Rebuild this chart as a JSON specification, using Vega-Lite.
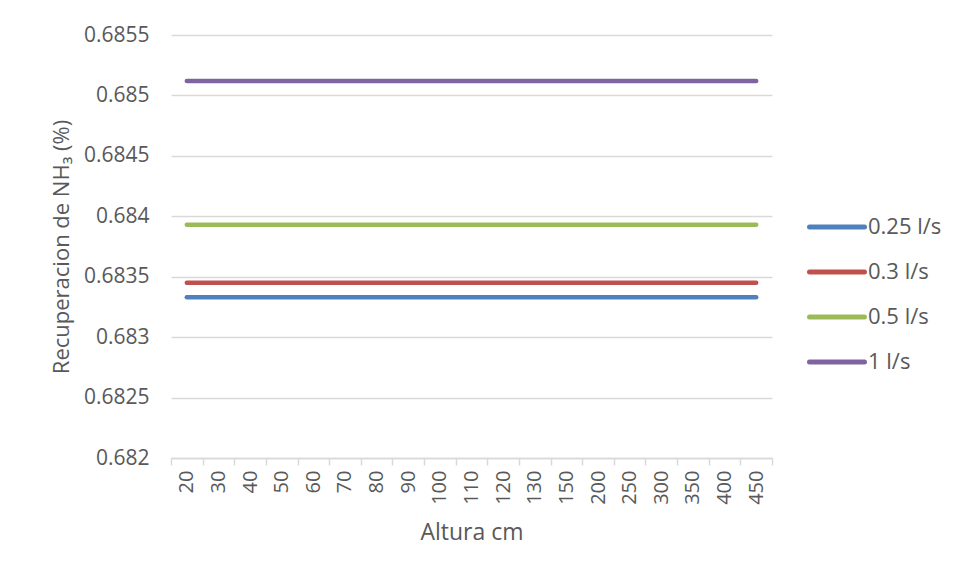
{
  "$schema": "https://vega.github.io/schema/vega-lite/v6.json",
  "width": 601,
  "height": 423,
  "autosize": {"type": "none"},
  "padding": {"left": 171, "top": 35, "right": 183, "bottom": 119},
  "background": "white",
  "config": {
    "view": {"stroke": null},
    "font": "Open Sans"
  },
  "data": {
    "values": [
      {"altura": 20, "caudal": "0.25 l/s", "recuperacion": 0.68333},
      {"altura": 30, "caudal": "0.25 l/s", "recuperacion": 0.68333},
      {"altura": 40, "caudal": "0.25 l/s", "recuperacion": 0.68333},
      {"altura": 50, "caudal": "0.25 l/s", "recuperacion": 0.68333},
      {"altura": 60, "caudal": "0.25 l/s", "recuperacion": 0.68333},
      {"altura": 70, "caudal": "0.25 l/s", "recuperacion": 0.68333},
      {"altura": 80, "caudal": "0.25 l/s", "recuperacion": 0.68333},
      {"altura": 90, "caudal": "0.25 l/s", "recuperacion": 0.68333},
      {"altura": 100, "caudal": "0.25 l/s", "recuperacion": 0.68333},
      {"altura": 110, "caudal": "0.25 l/s", "recuperacion": 0.68333},
      {"altura": 120, "caudal": "0.25 l/s", "recuperacion": 0.68333},
      {"altura": 130, "caudal": "0.25 l/s", "recuperacion": 0.68333},
      {"altura": 150, "caudal": "0.25 l/s", "recuperacion": 0.68333},
      {"altura": 200, "caudal": "0.25 l/s", "recuperacion": 0.68333},
      {"altura": 250, "caudal": "0.25 l/s", "recuperacion": 0.68333},
      {"altura": 300, "caudal": "0.25 l/s", "recuperacion": 0.68333},
      {"altura": 350, "caudal": "0.25 l/s", "recuperacion": 0.68333},
      {"altura": 400, "caudal": "0.25 l/s", "recuperacion": 0.68333},
      {"altura": 450, "caudal": "0.25 l/s", "recuperacion": 0.68333},
      {"altura": 20, "caudal": "0.3 l/s", "recuperacion": 0.68345},
      {"altura": 30, "caudal": "0.3 l/s", "recuperacion": 0.68345},
      {"altura": 40, "caudal": "0.3 l/s", "recuperacion": 0.68345},
      {"altura": 50, "caudal": "0.3 l/s", "recuperacion": 0.68345},
      {"altura": 60, "caudal": "0.3 l/s", "recuperacion": 0.68345},
      {"altura": 70, "caudal": "0.3 l/s", "recuperacion": 0.68345},
      {"altura": 80, "caudal": "0.3 l/s", "recuperacion": 0.68345},
      {"altura": 90, "caudal": "0.3 l/s", "recuperacion": 0.68345},
      {"altura": 100, "caudal": "0.3 l/s", "recuperacion": 0.68345},
      {"altura": 110, "caudal": "0.3 l/s", "recuperacion": 0.68345},
      {"altura": 120, "caudal": "0.3 l/s", "recuperacion": 0.68345},
      {"altura": 130, "caudal": "0.3 l/s", "recuperacion": 0.68345},
      {"altura": 150, "caudal": "0.3 l/s", "recuperacion": 0.68345},
      {"altura": 200, "caudal": "0.3 l/s", "recuperacion": 0.68345},
      {"altura": 250, "caudal": "0.3 l/s", "recuperacion": 0.68345},
      {"altura": 300, "caudal": "0.3 l/s", "recuperacion": 0.68345},
      {"altura": 350, "caudal": "0.3 l/s", "recuperacion": 0.68345},
      {"altura": 400, "caudal": "0.3 l/s", "recuperacion": 0.68345},
      {"altura": 450, "caudal": "0.3 l/s", "recuperacion": 0.68345},
      {"altura": 20, "caudal": "0.5 l/s", "recuperacion": 0.68393},
      {"altura": 30, "caudal": "0.5 l/s", "recuperacion": 0.68393},
      {"altura": 40, "caudal": "0.5 l/s", "recuperacion": 0.68393},
      {"altura": 50, "caudal": "0.5 l/s", "recuperacion": 0.68393},
      {"altura": 60, "caudal": "0.5 l/s", "recuperacion": 0.68393},
      {"altura": 70, "caudal": "0.5 l/s", "recuperacion": 0.68393},
      {"altura": 80, "caudal": "0.5 l/s", "recuperacion": 0.68393},
      {"altura": 90, "caudal": "0.5 l/s", "recuperacion": 0.68393},
      {"altura": 100, "caudal": "0.5 l/s", "recuperacion": 0.68393},
      {"altura": 110, "caudal": "0.5 l/s", "recuperacion": 0.68393},
      {"altura": 120, "caudal": "0.5 l/s", "recuperacion": 0.68393},
      {"altura": 130, "caudal": "0.5 l/s", "recuperacion": 0.68393},
      {"altura": 150, "caudal": "0.5 l/s", "recuperacion": 0.68393},
      {"altura": 200, "caudal": "0.5 l/s", "recuperacion": 0.68393},
      {"altura": 250, "caudal": "0.5 l/s", "recuperacion": 0.68393},
      {"altura": 300, "caudal": "0.5 l/s", "recuperacion": 0.68393},
      {"altura": 350, "caudal": "0.5 l/s", "recuperacion": 0.68393},
      {"altura": 400, "caudal": "0.5 l/s", "recuperacion": 0.68393},
      {"altura": 450, "caudal": "0.5 l/s", "recuperacion": 0.68393},
      {"altura": 20, "caudal": "1 l/s", "recuperacion": 0.68512},
      {"altura": 30, "caudal": "1 l/s", "recuperacion": 0.68512},
      {"altura": 40, "caudal": "1 l/s", "recuperacion": 0.68512},
      {"altura": 50, "caudal": "1 l/s", "recuperacion": 0.68512},
      {"altura": 60, "caudal": "1 l/s", "recuperacion": 0.68512},
      {"altura": 70, "caudal": "1 l/s", "recuperacion": 0.68512},
      {"altura": 80, "caudal": "1 l/s", "recuperacion": 0.68512},
      {"altura": 90, "caudal": "1 l/s", "recuperacion": 0.68512},
      {"altura": 100, "caudal": "1 l/s", "recuperacion": 0.68512},
      {"altura": 110, "caudal": "1 l/s", "recuperacion": 0.68512},
      {"altura": 120, "caudal": "1 l/s", "recuperacion": 0.68512},
      {"altura": 130, "caudal": "1 l/s", "recuperacion": 0.68512},
      {"altura": 150, "caudal": "1 l/s", "recuperacion": 0.68512},
      {"altura": 200, "caudal": "1 l/s", "recuperacion": 0.68512},
      {"altura": 250, "caudal": "1 l/s", "recuperacion": 0.68512},
      {"altura": 300, "caudal": "1 l/s", "recuperacion": 0.68512},
      {"altura": 350, "caudal": "1 l/s", "recuperacion": 0.68512},
      {"altura": 400, "caudal": "1 l/s", "recuperacion": 0.68512},
      {"altura": 450, "caudal": "1 l/s", "recuperacion": 0.68512}
    ]
  },
  "mark": {"type": "line", "strokeWidth": 4.5, "strokeCap": "round"},
  "encoding": {
    "x": {
      "field": "altura",
      "type": "ordinal",
      "scale": {"type": "band", "paddingInner": 0, "paddingOuter": 0},
      "axis": {
        "title": "Altura cm",
        "titleFont": "Open Sans",
        "titleFontSize": 23,
        "titleFontWeight": "normal",
        "titleColor": "#595959",
        "titlePadding": 17,
        "labelAngle": -90,
        "labelFontSize": 20,
        "labelColor": "#595959",
        "labelPadding": 5,
        "domainColor": "#d9d9d9",
        "domainWidth": 1.5,
        "tickColor": "#d9d9d9",
        "tickWidth": 1.5,
        "tickSize": 7,
        "tickBand": "extent",
        "grid": false
      }
    },
    "y": {
      "field": "recuperacion",
      "type": "quantitative",
      "scale": {"domain": [0.682, 0.6855], "zero": false, "nice": false},
      "axis": {
        "title": "Recuperacion de NH₃ (%)",
        "titleFont": "Open Sans",
        "titleFontSize": 22,
        "titleFontWeight": "normal",
        "titleColor": "#595959",
        "titlePadding": 10,
        "values": [0.682, 0.6825, 0.683, 0.6835, 0.684, 0.6845, 0.685, 0.6855],
        "format": ".4~f",
        "labelFontSize": 21,
        "labelColor": "#595959",
        "labelPadding": 22,
        "domain": false,
        "ticks": false,
        "grid": true,
        "gridColor": "#d9d9d9",
        "gridWidth": 1.5
      }
    },
    "color": {
      "field": "caudal",
      "type": "nominal",
      "scale": {
        "domain": ["0.25 l/s", "0.3 l/s", "0.5 l/s", "1 l/s"],
        "range": ["#4F81BD", "#C0504D", "#9BBB59", "#8064A2"]
      },
      "legend": {
        "title": null,
        "orient": "none",
        "legendX": 654,
        "legendY": 180,
        "symbolType": "M-3,0H3",
        "symbolSize": 336,
        "symbolStrokeWidth": 5,
        "labelOffset": 19,
        "labelFontSize": 22,
        "labelColor": "#595959",
        "rowPadding": 22,
        "encode": {"symbols": {"update": {"strokeCap": {"value": "round"}}}}
      }
    }
  }
}
